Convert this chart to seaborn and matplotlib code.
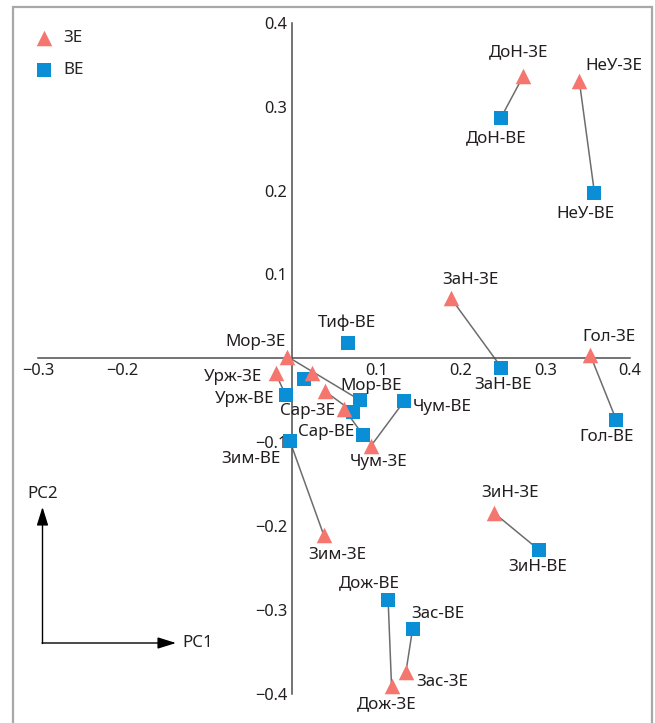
import matplotlib
matplotlib.use("Agg")
import matplotlib.pyplot as plt
import seaborn as sns
import numpy as np
from matplotlib.patches import Rectangle
from matplotlib.ticker import FixedLocator, FixedFormatter

# ---------------- data ----------------
ze_labels = ["ДоН-ЗЕ", "НеУ-ЗЕ", "ЗаН-ЗЕ", "Гол-ЗЕ", "ЗиН-ЗЕ", "Дож-ЗЕ", "Зас-ЗЕ",
             "Зим-ЗЕ", "Мор-ЗЕ", "Урж-ЗЕ", "Сар-ЗЕ", "Чум-ЗЕ", "", ""]
ze_pc1 = [0.274, 0.340, 0.188, 0.353, 0.239, 0.118, 0.135,
          0.038, -0.005, -0.019, 0.062, 0.094, 0.024, 0.039]
ze_pc2 = [0.337, 0.331, 0.072, 0.004, -0.184, -0.390, -0.374,
          -0.211, 0.002, -0.018, -0.060, -0.104, -0.018, -0.039]

ve_labels = ["ДоН-ВЕ", "НеУ-ВЕ", "ЗаН-ВЕ", "Гол-ВЕ", "ЗиН-ВЕ", "Дож-ВЕ", "Зас-ВЕ",
             "Зим-ВЕ", "Мор-ВЕ", "Урж-ВЕ", "Сар-ВЕ", "Чум-ВЕ", "", "", "Тиф-ВЕ"]
ve_pc1 = [0.247, 0.358, 0.248, 0.384, 0.292, 0.114, 0.143,
          -0.002, 0.081, -0.007, 0.084, 0.133, 0.015, 0.073, 0.066]
ve_pc2 = [0.286, 0.197, -0.011, -0.074, -0.228, -0.288, -0.322,
          -0.099, -0.050, -0.044, -0.091, -0.051, -0.025, -0.064, 0.018]

group_names = ["ЗЕ", "ВЕ"]

x_ticks = [-0.3, -0.2, -0.1, 0.1, 0.2, 0.3, 0.4]
x_tick_labels = ["\u22120.3", "\u22120.2", "", "0.1", "0.2", "0.3", "0.4"]
y_ticks = [0.4, 0.3, 0.2, 0.1, -0.1, -0.2, -0.3, -0.4]
y_tick_labels = ["0.4", "0.3", "0.2", "0.1", "\u22120.1", "\u22120.2", "\u22120.3", "\u22120.4"]

# ---------------- style ----------------
sns.set_style("white")
plt.rcParams["font.family"] = ["Noto Sans", "DejaVu Sans"]

RED = "#F4766F"
BLUE = "#0A8FD6"
TXT = "#231f20"
AX = "#4d4d4d"

# label offsets (points) : (dx, dy, ha)
offsets = {
    "ДоН-ЗЕ": (-3.6, 16.8, "center"), "ДоН-ВЕ": (-3.1, -14.4, "center"),
    "НеУ-ЗЕ": (24.7, 10.8, "center"), "НеУ-ВЕ": (-6.2, -15.1, "center"),
    "ЗаН-ЗЕ": (14.2, 13.2, "center"), "ЗаН-ВЕ": (1.0, -12.7, "center"),
    "Гол-ЗЕ": (13.4, 13.2, "center"), "Гол-ВЕ": (-7.4, -11.8, "center"),
    "ЗиН-ЗЕ": (11.5, 14.0, "center"), "ЗиН-ВЕ": (-0.7, -12.5, "center"),
    "Дож-ВЕ": (-13.2, 12.0, "center"), "Зас-ВЕ": (18.3, 10.3, "center"),
    "Зас-ЗЕ": (26.4, -7.2, "center"), "Дож-ЗЕ": (-3.2, -13.2, "center"),
    "Зим-ЗЕ": (9.4, -14.4, "center"), "Мор-ЗЕ": (-22.8, 10.3, "center"),
    "Урж-ЗЕ": (-30.7, -2.4, "center"), "Урж-ВЕ": (-29.8, -2.4, "center"),
    "Мор-ВЕ": (8.2, 10.1, "center"), "Сар-ЗЕ": (-26.6, -1.9, "center"),
    "Сар-ВЕ": (-26.4, 1.7, "center"), "Чум-ЗЕ": (5.3, -12.0, "center"),
    "Чум-ВЕ": (6.3, -4.1, "left"), "Зим-ВЕ": (-28.1, -12.5, "center"),
    "Тиф-ВЕ": (-0.7, 14.9, "center"),
}

W, H = 655, 723
fig = plt.figure(figsize=(W / 100, H / 100), dpi=100)
ax = fig.add_axes([38 / W, 29 / H, 592 / W, 671.3 / H])

# connecting lines
for i in range(len(ze_pc1)):
    ax.plot([ze_pc1[i], ve_pc1[i]], [ze_pc2[i], ve_pc2[i]],
            color="#6d6d6d", lw=1.1, zorder=2)

sns.scatterplot(x=ve_pc1, y=ve_pc2, marker="s", s=90, color=BLUE,
                linewidth=0, label=group_names[1], ax=ax, zorder=3, clip_on=False)
sns.scatterplot(x=ze_pc1, y=ze_pc2, marker="^", s=125, color=RED,
                linewidth=0, label=group_names[0], ax=ax, zorder=4, clip_on=False)

ax.set_xlim(-0.3, 0.4)
ax.set_ylim(-0.4, 0.4)

# labels
fs_lab = 12.2
for labs, xs, ys in [(ze_labels, ze_pc1, ze_pc2), (ve_labels, ve_pc1, ve_pc2)]:
    for lab, x, y in zip(labs, xs, ys):
        if not lab:
            continue
        dx, dy, ha = offsets[lab]
        ax.annotate(lab, (x, y), xytext=(dx, dy), textcoords="offset points",
                    ha=ha, va="center", fontsize=fs_lab, color=TXT,
                    annotation_clip=False, zorder=5)

# spines through origin
for s in ["top", "right"]:
    ax.spines[s].set_visible(False)
ax.spines["left"].set_position(("data", 0))
ax.spines["bottom"].set_position(("data", 0))
for s in ["left", "bottom"]:
    ax.spines[s].set_color(AX)
    ax.spines[s].set_linewidth(1.1)

ax.xaxis.set_major_locator(FixedLocator(x_ticks))
ax.xaxis.set_major_formatter(FixedFormatter(x_tick_labels))
ax.yaxis.set_major_locator(FixedLocator(y_ticks))
ax.yaxis.set_major_formatter(FixedFormatter(y_tick_labels))
ax.tick_params(axis="both", direction="in", length=3, width=1.0, color=AX,
               labelsize=11.8, labelcolor=TXT, pad=3)
ax.set_xlabel("")
ax.set_ylabel("")
ax.set_facecolor("none")

# legend
handles, labels = ax.get_legend_handles_labels()
order = [labels.index(g) for g in group_names]
ax.legend([handles[i] for i in order], [labels[i] for i in order],
          loc="upper left", bbox_to_anchor=(35 / W, 1 - 30 / H),
          bbox_transform=fig.transFigure, frameon=False, borderaxespad=0,
          borderpad=0, handlelength=1.1, handletextpad=0.55,
          labelspacing=0.95, fontsize=12.2)

# PC arrows (inset)
def fp(x, y):
    return (x / W, 1 - y / H)

arrow_kw = dict(arrowstyle="-|>,head_length=0.8,head_width=0.25", color="black",
                lw=1.0, mutation_scale=14, shrinkA=0, shrinkB=0)
ax.annotate("", xy=fp(42.5, 507), xytext=fp(42.5, 643.5), xycoords="figure fraction",
            textcoords="figure fraction", arrowprops=arrow_kw, annotation_clip=False)
ax.annotate("", xy=fp(176, 643), xytext=fp(42, 643), xycoords="figure fraction",
            textcoords="figure fraction", arrowprops=arrow_kw, annotation_clip=False)
fig.text(*fp(42.5, 494), "PC2", ha="center", va="center", fontsize=12.2, color=TXT)
fig.text(*fp(182, 643), "PC1", ha="left", va="center", fontsize=12.2, color=TXT)

# figure frame
fig.patches.append(Rectangle((13 / W, -0.02), (652 - 13) / W, (H - 7) / H + 0.02,
                             transform=fig.transFigure, fill=False,
                             edgecolor="#a8a8a8", lw=1.6, zorder=0))

fig.savefig("out.png", dpi=100)
